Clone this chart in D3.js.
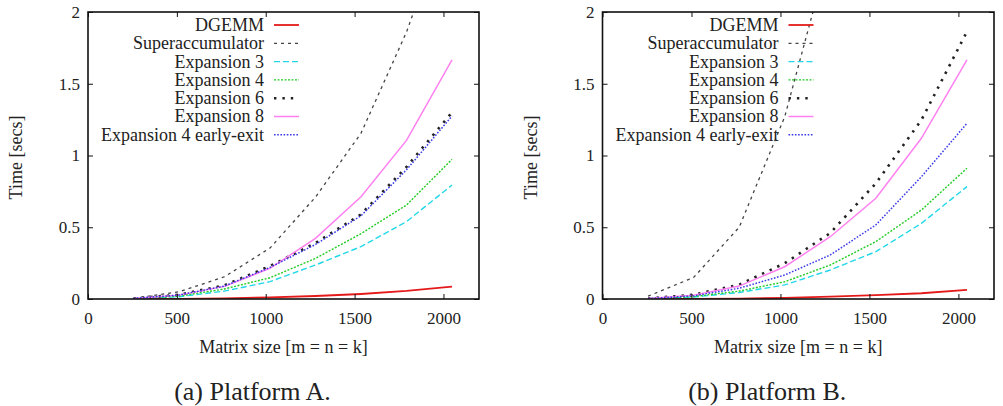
<!DOCTYPE html>
<html>
<head>
<meta charset="utf-8">
<script src="https://cdn.jsdelivr.net/npm/d3@7"></script>
<style>
  body { margin: 0; background: #fff; }
</style>
</head>
<body>
<svg class="main" width="1003" height="406"></svg>
<script>
(function () {
  'use strict';

  const FONT = '"Liberation Serif", "Times New Roman", Times, serif';

  // matrix sizes (m = n = k)
  const sizes = [256, 512, 768, 1024, 1280, 1536, 1792, 2048];
  const names = [
    "DGEMM",
    "Superaccumulator",
    "Expansion 3",
    "Expansion 4",
    "Expansion 6",
    "Expansion 8",
    "Expansion 4 early-exit"
  ];

  // Platform A, time in seconds
  const dgemmA = [0.0003, 0.0015, 0.005, 0.011, 0.021, 0.035, 0.056, 0.086];
  const superaccA = [0.005, 0.05, 0.155, 0.355, 0.71, 1.155, 1.86, 2.75];
  const exp3A = [0.002, 0.016, 0.055, 0.121, 0.237, 0.365, 0.539, 0.794];
  const exp4A = [0.002, 0.02, 0.07, 0.148, 0.283, 0.455, 0.655, 0.973];
  const exp6A = [0.004, 0.03, 0.095, 0.23, 0.39, 0.59, 0.92, 1.3];
  const exp8A = [0.003, 0.027, 0.088, 0.214, 0.423, 0.713, 1.105, 1.666];
  const earlyA = [0.004, 0.028, 0.09, 0.22, 0.38, 0.58, 0.9, 1.275];

  // Platform B, time in seconds
  const dgemmB = [0.0002, 0.001, 0.003, 0.008, 0.016, 0.027, 0.04, 0.063];
  const superaccB = [0.02, 0.15, 0.5, 1.27, 2.45];
  const exp3B = [0.002, 0.014, 0.045, 0.098, 0.202, 0.33, 0.527, 0.783];
  const exp4B = [0.002, 0.017, 0.055, 0.12, 0.237, 0.4, 0.62, 0.911];
  const exp6B = [0.004, 0.03, 0.1, 0.249, 0.46, 0.806, 1.247, 1.863];
  const exp8B = [0.003, 0.027, 0.09, 0.225, 0.434, 0.702, 1.12, 1.666];
  const earlyB = [0.003, 0.022, 0.075, 0.167, 0.307, 0.516, 0.852, 1.224];

  const xTicks = [0, 500, 1000, 1500, 2000];
  const yTicks = [0, 0.5, 1, 1.5, 2];
  const yTickLabels = ["0", "0.5", "1", "1.5", "2"];

  // gnuplot-ish line styles, one per series
  const styles = [
    { color: "#e41a1a", dash: null, width: 1.8 },
    { color: "#444", dash: "3,4", width: 1.3 },
    { color: "#22d8e8", dash: "6,3", width: 1.4 },
    { color: "#22cc22", dash: "2,1.5", width: 1.4 },
    { color: "#222", dash: "2.4,6", width: 2.6 },
    { color: "#ff80f0", dash: null, width: 1.5 },
    { color: "#3a3ae6", dash: "1.6,1.6", width: 1.5 }
  ];

  const svg = d3.select("svg.main");

  const line = (x, y) =>
    d3.line()
      .x(d => x(d.size))
      .y(d => y(d.time));

  const label = (sel, size) =>
    sel.style("font-family", FONT).style("font-size", size + "px").style("fill", "#222");

  function drawPlot(id, left, right, seriesValues, caption) {
    const top = 12, bottom = 299;
    const x = d3.scaleLinear().domain([0, 2200]).range([left, right]);
    const y = d3.scaleLinear().domain([0, 2]).range([bottom, top]);
    const g = svg.append("g");

    g.append("clipPath").attr("id", id)
      .append("rect")
      .attr("x", left).attr("y", top)
      .attr("width", right - left).attr("height", bottom - top);

    // series
    const lines = g.append("g").attr("clip-path", `url(#${id})`);
    seriesValues.forEach((vals, i) => {
      const pts = vals.map((v, j) => ({ size: sizes[j], time: v }));
      const s = styles[i];
      lines.append("path")
        .attr("d", line(x, y)(pts))
        .attr("fill", "none")
        .attr("stroke", s.color)
        .attr("stroke-width", s.width)
        .attr("stroke-dasharray", s.dash);
    });

    // axes, ticks pointing inward on all sides
    const fmtY = d => yTickLabels[yTicks.indexOf(d)];
    const bottomAxis = g.append("g")
      .attr("transform", `translate(0,${bottom})`)
      .call(d3.axisBottom(x).tickValues(xTicks).tickFormat(d3.format("d"))
        .tickSizeInner(-5).tickSizeOuter(0).tickPadding(13));
    g.append("g")
      .attr("transform", `translate(0,${top})`)
      .call(d3.axisTop(x).tickValues(xTicks).tickSizeInner(-5).tickSizeOuter(0).tickFormat(""));
    const leftAxis = g.append("g")
      .attr("transform", `translate(${left},0)`)
      .call(d3.axisLeft(y).tickValues(yTicks).tickSizeInner(-5).tickSizeOuter(0).tickPadding(8).tickFormat(fmtY));
    g.append("g")
      .attr("transform", `translate(${right},0)`)
      .call(d3.axisRight(y).tickValues(yTicks).tickSizeInner(-5).tickSizeOuter(0).tickFormat(""));

    g.selectAll(".domain").remove();
    g.selectAll(".tick line").attr("stroke", "#111").attr("stroke-width", 1);
    label(bottomAxis.selectAll("text"), 17);
    label(leftAxis.selectAll("text"), 17);

    g.append("rect")
      .attr("x", left).attr("y", top)
      .attr("width", right - left).attr("height", bottom - top)
      .attr("fill", "none")
      .attr("stroke", "#111")
      .attr("stroke-width", 1.6);

    // legend
    const leg = g.append("g");
    names.forEach((name, i) => {
      const cy = 25 + i * 18.3;
      const s = styles[i];
      label(leg.append("text"), 18)
        .attr("x", left + 176).attr("y", cy)
        .attr("dy", "0.33em")
        .attr("text-anchor", "end")
        .text(name);
      leg.append("line")
        .attr("x1", left + 186).attr("x2", left + 211)
        .attr("y1", cy).attr("y2", cy)
        .attr("stroke", s.color)
        .attr("stroke-width", s.width)
        .attr("stroke-dasharray", s.dash);
    });

    // titles
    label(g.append("text"), 18)
      .attr("transform", `translate(${left - 66},${(top + bottom) / 2 + 2}) rotate(-90)`)
      .attr("text-anchor", "middle")
      .text("Time [secs]");
    label(g.append("text"), 18)
      .attr("x", (left + right) / 2)
      .attr("y", 353)
      .attr("text-anchor", "middle")
      .text("Matrix size [m = n = k]");
    label(g.append("text"), 26)
      .attr("x", (left + right) / 2 - 31)
      .attr("y", 400)
      .attr("text-anchor", "middle")
      .text(caption);
  }

  drawPlot("clipA", 88, 479,
    [dgemmA, superaccA, exp3A, exp4A, exp6A, exp8A, earlyA], "(a) Platform A.");
  drawPlot("clipB", 602.5, 994,
    [dgemmB, superaccB, exp3B, exp4B, exp6B, exp8B, earlyB], "(b) Platform B.");
}());
</script>
</body>
</html>
